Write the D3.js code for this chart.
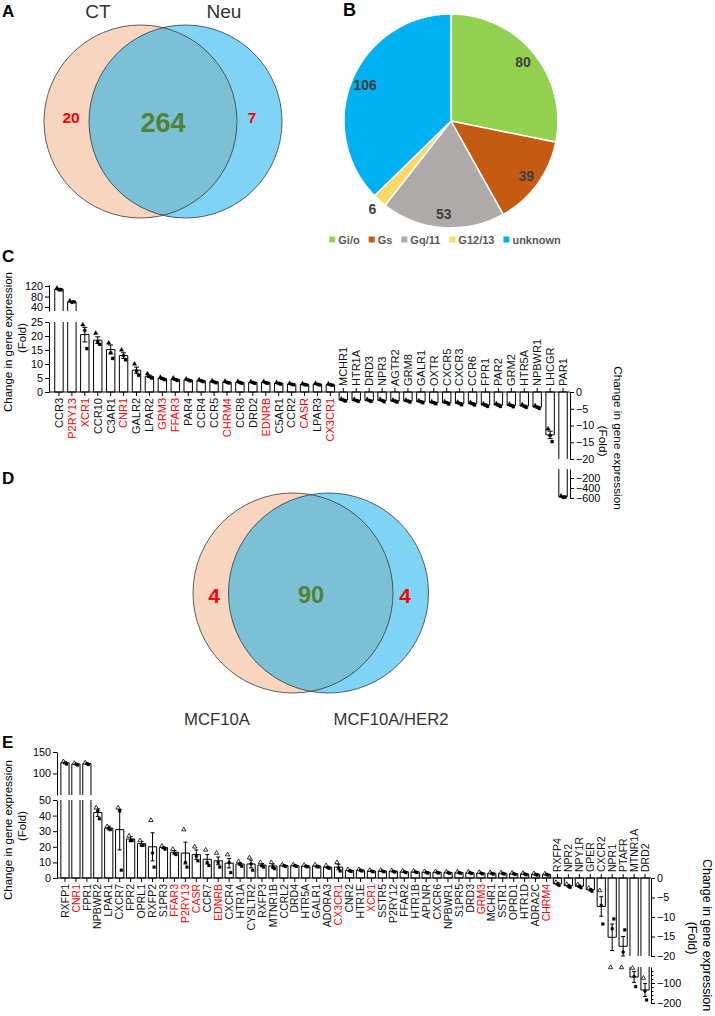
<!DOCTYPE html>
<html>
<head>
<meta charset="utf-8">
<script src="https://cdn.jsdelivr.net/npm/d3@7/dist/d3.min.js"></script>
<style>
html,body{margin:0;padding:0;background:#fff;}
svg{display:block;}
</style>
</head>
<body>
<svg id="fig" width="715" height="1016" xmlns="http://www.w3.org/2000/svg"></svg>
<script>
// ================= DATA =================
// Panel A (Venn)
const vennASets = ["CT", "Neu"];
const vennACounts = [20, 264, 7];

// Panel B (pie)
const pieLabels = ["Gi/o", "Gs", "Gq/11", "G12/13", "unknown"];
const pieValues = [80, 39, 53, 6, 106];
const pieColors = ["#92d050", "#c55a11", "#aeaaaa", "#ffd966", "#00b0f0"];

// Panel C (bars)
const cGenes = ["CCR3","P2RY13","XCR1","CCR10","C3AR1","CNR1","GALR2","LPAR2","GRM3","FFAR3","PAR4","CCR4","CCR5","CHRM4","CCR8","DRD2","EDNRB","C5AR1","CCR2","CASR","LPAR3","CX3CR1",
  "MCHR1","HTR1A","DRD3","NPR3","AGTR2","GRM8","GALR1","OXTR","CXCR5","CXCR3","CCR6","FPR1","PAR2","GRM2","HTR5A","NPBWR1","LHCGR","PAR1"];
const cUpCount = 22;
const cRedGenes = ["P2RY13","XCR1","CNR1","GRM3","FFAR3","CHRM4","EDNRB","CASR","CX3CR1"];
const cMeans = [108, 60, 20.5, 18.5, 15.2, 13, 7.8, 5.6, 4.8, 4.5, 4.3, 4.0, 3.6, 3.5, 3.4, 3.4, 3.4, 3.1, 2.8, 2.7, 2.8, 2.6,
  -2.4, -2.5, -2.5, -2.5, -2.7, -2.7, -2.9, -3.2, -3.2, -3.4, -3.5, -3.9, -3.9, -4.0, -4.2, -4.5, -12.8, -575];
const cSem = [3, 2, 2.6, 1.2, 1.6, 1.0, 1.1, 0.4, 0.3, 0.3, 0.2, 0.2, 0.2, 0.2, 0.2, 0.2, 0.2, 0.2, 0.2, 0.2, 0.2, 0.15,
  0.2, 0.2, 0.2, 0.2, 0.2, 0.2, 0.2, 0.2, 0.2, 0.2, 0.25, 0.25, 0.25, 0.25, 0.25, 0.25, 1.1, 8];
const cPoints = [[112,106,105],[63,58,60],[24,22,15.5],[21,18,17],[17.5,14,12],[15,13,11.5],[10,7.5,6],[6.5,5.5,5],
  [5.3,4.8,4.4],[5,4.5,4.1],[4.7,4.3,4.0],[4.4,4,3.7],[4,3.6,3.3],[3.9,3.5,3.2],[3.8,3.4,3.1],[3.7,3.4,3.1],[3.8,3.3,3.1],
  [3.4,3.1,2.8],[3.1,2.8,2.6],[3,2.7,2.5],[3.1,2.8,2.5],[2.9,2.6,2.4],
  [-2.1,-2.4,-2.7],[-2.2,-2.5,-2.8],[-2.2,-2.5,-2.8],[-2.2,-2.5,-2.9],[-2.4,-2.7,-3.0],[-2.4,-2.7,-3.0],[-2.6,-2.9,-3.2],
  [-2.9,-3.2,-3.5],[-2.9,-3.2,-3.6],[-3.0,-3.4,-3.8],[-3.1,-3.5,-3.9],[-3.5,-3.9,-4.3],[-3.5,-3.9,-4.3],[-3.6,-4.0,-4.4],
  [-3.8,-4.2,-4.6],[-4.1,-4.5,-4.9],[-11,-13,-14.8],[-560,-585,-580]];
const cTicksUpLow = [0, 5, 10, 15, 20, 25];
const cTicksUpHigh = [40, 80, 120];
const cTicksDownHigh = [0, -5, -10, -15, -20];
const cTicksDownLow = [-200, -400, -600];

// Panel D (Venn)
const vennDSets = ["MCF10A", "MCF10A/HER2"];
const vennDCounts = [4, 90, 4];

// Panel E (bars)
const eGenes = ["RXFP1","CNR1","FPR1","NPBWR2","LPAR1","CXCR7","FPR2","OPRL1","RXFP2","S1PR3","FFAR3","P2RY13","CASR","CCR7","EDNRB",
  "CXCR4","HTR1A","CYSLTR2","RXFP3","MTNR1B","CCRL2","DRD4","HTR5A","GALR1","ADORA3","CX3CR1","CNR2","HTR1E","XCR1","SSTR5",
  "P2RY12","FFAR2","HTR1B","APLNR","CXCR6","NPBWR1","S1PR5","DRD3","GRM3","MCHR1","SSTR1","OPRD1","HTR1D","ADRA2C","CHRM4",
  "RXFP4","NPR2","NPY1R","GPER","CXCR2","NPR1","PTAFR","MTNR1A","DRD2"];
const eUpCount = 45;
const eRedGenes = ["CNR1","FFAR3","P2RY13","CASR","EDNRB","CX3CR1","XCR1","GRM3","CHRM4"];
const eMeans = [125, 122, 123, 42, 32, 31, 25, 22, 20, 19.5, 16.5, 16, 15, 12, 11, 9.5, 9, 9, 8.3, 7.7, 8, 8, 7.7, 7.7, 7, 7,
  4.8, 5, 4.5, 4.5, 4.3, 4, 4, 3.7, 3.7, 3.5, 3.5, 3.4, 3.2, 3, 3, 2.8, 2.6, 2.4, 2.3,
  -1.5, -2, -2.1, -3, -7.3, -15.2, -17.5, -70, -135];
const eSem = [2, 1.5, 1.5, 2.5, 1.2, 13, 1.5, 1.5, 9, 0.6, 1.2, 7, 3, 3, 2.5, 3, 0.8, 2.5, 1, 1.3, 0.4, 0.4, 0.4, 0.5, 0.6, 1.8,
  0.4, 0.3, 0.3, 0.3, 0.3, 0.3, 0.3, 0.3, 0.3, 0.3, 0.3, 0.3, 0.3, 0.3, 0.3, 0.3, 0.3, 0.3, 0.3,
  0.3, 0.3, 0.3, 0.3, 2.5, 3.4, 2.5, 27, 32];
const ePoints = [[128,125,122],[124,122,120],[125,123,121],[45,43,38],[33,32,31],[45,43,5],[27,24,24],[24,21,21],[37,16,7],
  [20.5,19.5,18.5],[18.5,16,15],[31,10,7],[20,14,11],[18,10,8],[16,10,7],[15,10,3.5],[10.5,9,7.5],[13,9,5],[10,8,7],[10,7,6],
  [8.6,8,7.4],[8.6,8,7.4],[8.3,7.6,7.2],[8.5,7.5,7.1],[8,6.8,6.2],[10,6.5,4.5],[5.5,4.7,4.2],[5.5,5,4.5],[5,4.5,4],[5,4.5,4],
  [4.8,4.3,3.8],[4.5,4,3.5],[4.5,4,3.5],[4.2,3.7,3.2],[4.2,3.7,3.2],[4,3.5,3],[4,3.5,3],[3.9,3.4,2.9],[3.7,3.2,2.7],[3.5,3,2.5],
  [3.5,3,2.5],[3.3,2.8,2.3],[3.1,2.6,2.1],[2.9,2.4,1.9],[2.8,2.3,1.8],
  [-1.1,-1.5,-1.9],[-1.6,-2,-2.4],[-1.7,-2.1,-2.5],[-2.6,-3,-3.4],[-3.2,-7,-11.8],[-22,-13,-10.5],[-22,-19,-13.3],[-25,-68,-118],[-75,-140,-185]];
const eTicksUpLow = [0, 10, 20, 30, 40, 50];
const eTicksUpHigh = [100, 150];
const eTicksDownHigh = [0, -5, -10, -15, -20];
const eTicksDownLow = [-100, -200];
const eMinorDownLow = [-40, -60, -80, -120, -140, -160, -180];

const axisTitle = "Change in gene expression";
const axisSubTitle = "(Fold)";

// ================= DRAWING =================
const FF = "'Liberation Sans', Arial, Helvetica, sans-serif";
const svg = d3.select("#fig");
const defs = svg.append("defs");

function txt(parent, x, y, s, o = {}) {
  const t = parent.append("text").attr("x", x).attr("y", y).text(s)
    .attr("font-family", FF).attr("font-size", o.size || 11).attr("fill", o.fill || "#000")
    .attr("text-anchor", o.anchor || "start");
  if (o.weight) t.attr("font-weight", o.weight);
  if (o.dy) t.attr("dy", o.dy);
  if (o.transform) t.attr("transform", o.transform);
  return t;
}

// panel letters
txt(svg, 2, 17, "A", {size: 17, weight: "bold"});
txt(svg, 343, 16, "B", {size: 18, weight: "bold"});
txt(svg, 2, 262, "C", {size: 17, weight: "bold"});
txt(svg, 2, 484, "D", {size: 17, weight: "bold"});
txt(svg, 2, 748, "E", {size: 17, weight: "bold"});

// ---------- Venn ----------
function venn(id, c1, c2, cy, r) {
  const g = svg.append("g");
  defs.append("clipPath").attr("id", id).append("circle").attr("cx", c1).attr("cy", cy).attr("r", r);
  g.append("circle").attr("cx", c1).attr("cy", cy).attr("r", r).attr("fill", "#f8d5bf");
  g.append("circle").attr("cx", c2).attr("cy", cy).attr("r", r).attr("fill", "#7fd4f5");
  g.append("circle").attr("cx", c2).attr("cy", cy).attr("r", r).attr("fill", "#7bc0d5").attr("clip-path", `url(#${id})`);
  [c1, c2].forEach(cx => g.append("circle").attr("cx", cx).attr("cy", cy).attr("r", r)
    .attr("fill", "none").attr("stroke", "#3a3a3a").attr("stroke-width", 0.8));
  return g;
}
const gA = venn("clipA", 140.5, 185.5, 121.5, 96.5);
txt(gA, 98, 17.5, vennASets[0], {size: 19, anchor: "middle", fill: "#333"});
txt(gA, 224, 17.5, vennASets[1], {size: 19, anchor: "middle", fill: "#333"});
txt(gA, 71, 123, vennACounts[0], {size: 15.5, weight: "bold", anchor: "middle", fill: "#ff0000"});
txt(gA, 163, 131.5, vennACounts[1], {size: 27, weight: "bold", anchor: "middle", fill: "#538135"});
txt(gA, 252, 123, vennACounts[2], {size: 15.5, weight: "bold", anchor: "middle", fill: "#ff0000"});

const gD = venn("clipD", 293, 328.5, 593, 100);
txt(gD, 214, 603, vennDCounts[0], {size: 21, weight: "bold", anchor: "middle", fill: "#ff0000"});
txt(gD, 311, 603, vennDCounts[1], {size: 23.5, weight: "bold", anchor: "middle", fill: "#538135"});
txt(gD, 405, 603, vennDCounts[2], {size: 21, weight: "bold", anchor: "middle", fill: "#ff0000"});
txt(gD, 217, 725, vennDSets[0], {size: 16.7, anchor: "middle", fill: "#333"});
txt(gD, 391, 725, vennDSets[1], {size: 16.7, anchor: "middle", fill: "#333"});

// ---------- Pie ----------
(function () {
  const cx = 451, cy = 121, R = 107;
  const g = svg.append("g").attr("transform", `translate(${cx},${cy})`);
  const pie = d3.pie().sort(null).value(d => d)(pieValues);
  const arc = d3.arc().innerRadius(0).outerRadius(R);
  g.selectAll("path.sl").data(pie).join("path").attr("class", "sl").attr("d", arc)
    .attr("fill", (d, i) => pieColors[i]).attr("stroke", "#fff").attr("stroke-width", 1.5);
  const total = d3.sum(pieValues);
  pie.forEach((d, i) => {
    const rr = (d.value / total < 0.03) ? R * 1.1 : R * 0.87;
    const c = d3.arc().innerRadius(rr).outerRadius(rr).centroid(d);
    txt(g, c[0], c[1], d.value, {size: 14, weight: "bold", anchor: "middle", fill: "#404040", dy: "0.36em"});
  });
  // legend
  const lg = svg.append("g");
  let xx = 0;
  pieLabels.forEach((lab, i) => {
    const it = lg.append("g").attr("transform", `translate(${xx},0)`);
    it.append("rect").attr("x", 0).attr("y", 239.5 - 3).attr("width", 6).attr("height", 6).attr("fill", pieColors[i]);
    const t = txt(it, 9, 243.5, lab, {size: 11, weight: "bold", fill: "#595959"});
    const w = t.node().getComputedTextLength();
    xx += 9 + w + 9;
  });
  const totalW = xx - 9;
  lg.attr("transform", `translate(${445 - totalW / 2},0)`);
})();

// ---------- Bar panels ----------
function barPanel(c) {
  const g = svg.append("g");
  const x = d3.scaleBand().domain(c.genes).range(c.xRange).paddingInner(c.pad).paddingOuter(c.pad / 2);
  const bw = x.bandwidth();
  const step = x.step();
  const S = {
    upLo: d3.scaleLinear().domain(c.upLo.dom).range(c.upLo.rng),
    upHi: d3.scaleLinear().domain(c.upHi.dom).range(c.upHi.rng),
    dnHi: d3.scaleLinear().domain(c.dnHi.dom).range(c.dnHi.rng),
    dnLo: d3.scaleLinear().domain(c.dnLo.dom).range(c.dnLo.rng)
  };
  const upMax = c.upLo.dom[1], dnMin = c.dnHi.dom[1];
  const y = v => v >= 0 ? (v <= upMax ? S.upLo(v) : S.upHi(v)) : (v >= dnMin ? S.dnHi(v) : S.dnLo(v));
  const bars = g.append("g");
  const errs = g.append("g");
  const pts = g.append("g");
  const symTypes = [d3.symbolTriangle, d3.symbolCircle, d3.symbolSquare];

  c.genes.forEach((gene, i) => {
    const m = c.means[i], x0 = x(gene), x1 = x0 + bw, xc = x0 + bw / 2;
    const bar = (d) => bars.append("path").attr("d", d).attr("fill", "#fff").attr("stroke", "#000").attr("stroke-width", 1);
    if (m >= 0 && m <= upMax) {
      bar(`M${x0},${S.upLo(0)}V${S.upLo(m)}H${x1}V${S.upLo(0)}Z`);
    } else if (m > upMax) {
      bar(`M${x0},${S.upLo(upMax)}V${S.upLo(0)}H${x1}V${S.upLo(upMax)}`);
      bar(`M${x0},${S.upHi(upMax)}V${S.upHi(m)}H${x1}V${S.upHi(upMax)}`);
    } else if (m < 0 && m >= dnMin) {
      bar(`M${x0},${S.dnHi(0)}V${S.dnHi(m)}H${x1}V${S.dnHi(0)}Z`);
    } else {
      bar(`M${x0},${S.dnHi(dnMin)}V${S.dnHi(0)}H${x1}V${S.dnHi(dnMin)}`);
      bar(`M${x0},${S.dnLo(dnMin)}V${S.dnLo(m)}H${x1}V${S.dnLo(dnMin)}`);
    }
    const s = c.sem[i];
    const ya = y(m - s), yb = y(m + s), hw = c.capW / 2;
    errs.append("path").attr("d", `M${xc},${ya}V${yb}M${xc - hw},${ya}H${xc + hw}M${xc - hw},${yb}H${xc + hw}`)
      .attr("stroke", "#000").attr("stroke-width", 1).attr("fill", "none");
    c.points[i].forEach((p, k) => {
      const hollow = c.hollowTri && k === 0;
      pts.append("path").attr("d", d3.symbol().type(symTypes[k]).size(c.symSize)())
        .attr("transform", `translate(${xc + c.offs[k]},${y(p)})`)
        .attr("fill", hollow ? "#fff" : "#000").attr("stroke", "#000").attr("stroke-width", hollow ? 0.8 : 0.3);
    });
  });

  const styleAxis = (sel, size) => {
    sel.selectAll("text").attr("font-family", FF).attr("font-size", size).attr("fill", "#000");
    sel.selectAll("line,path").attr("stroke", "#000").attr("stroke-width", 1);
  };
  [["upLo", c.upLo.ticks], ["upHi", c.upHi.ticks]].forEach(([k, tv]) => {
    const a = g.append("g").attr("transform", `translate(${c.axisLeftX},0)`)
      .call(d3.axisLeft(S[k]).tickValues(tv).tickSize(4).tickSizeOuter(0).tickPadding(2));
    styleAxis(a, c.tickFont);
  });
  [["dnHi", c.dnHi.ticks], ["dnLo", c.dnLo.ticks]].forEach(([k, tv]) => {
    const a = g.append("g").attr("transform", `translate(${c.axisRightX},0)`)
      .call(d3.axisRight(S[k]).tickValues(tv).tickSize(4).tickSizeOuter(0).tickPadding(2));
    styleAxis(a, c.tickFont);
  });
  if (c.dnLo.minor && c.dnLo.minor.length) {
    const a = g.append("g").attr("transform", `translate(${c.axisRightX},0)`)
      .call(d3.axisRight(S.dnLo).tickValues(c.dnLo.minor).tickSize(2.5).tickSizeOuter(0).tickFormat(""));
    a.select(".domain").remove();
    styleAxis(a, c.tickFont);
  }

  const upGenes = c.genes.slice(0, c.nUp), dnGenes = c.genes.slice(c.nUp);
  const red = new Set(c.red);
  const xb = g.append("g").attr("transform", `translate(0,${c.y0})`)
    .call(d3.axisBottom(x).tickValues(upGenes).tickSize(4).tickSizeOuter(0));
  xb.select(".domain").remove();
  styleAxis(xb, c.labelSize);
  xb.selectAll("text").attr("transform", "rotate(-90)").attr("x", -6).attr("y", 0).attr("dy", "0.35em")
    .attr("text-anchor", "end").attr("fill", d => red.has(d) ? "#ff0000" : "#111");
  const xt = g.append("g").attr("transform", `translate(0,${c.y0})`)
    .call(d3.axisTop(x).tickValues(dnGenes).tickSize(4).tickSizeOuter(0));
  xt.select(".domain").remove();
  styleAxis(xt, c.labelSize);
  xt.selectAll("text").attr("transform", "rotate(-90)").attr("x", 6).attr("y", 0).attr("dy", "0.35em")
    .attr("text-anchor", "start").attr("fill", d => red.has(d) ? "#ff0000" : "#111");
  const split = x(upGenes[upGenes.length - 1]) + bw + (step - bw) / 2;
  g.append("line").attr("x1", c.axisLeftX).attr("x2", split).attr("y1", c.y0).attr("y2", c.y0).attr("stroke", "#000");
  g.append("line").attr("x1", split).attr("x2", c.axisRightX).attr("y1", c.y0).attr("y2", c.y0).attr("stroke", "#000");

  const ttl = c.titles;
  txt(g, 0, 0, axisTitle, {size: ttl.size, anchor: "middle", dy: "0.35em", transform: `translate(${ttl.lx},${ttl.ly}) rotate(-90)`});
  txt(g, 0, 0, axisSubTitle, {size: ttl.size, anchor: "middle", dy: "0.35em", transform: `translate(${ttl.lx + 14},${ttl.ly - 4}) rotate(-90)`});
  txt(g, 0, 0, axisTitle, {size: ttl.rsize, anchor: "middle", dy: "0.35em", transform: `translate(${ttl.rx},${ttl.ry}) rotate(90)`});
  txt(g, 0, 0, axisSubTitle, {size: ttl.rsize, anchor: "middle", dy: "0.35em", transform: `translate(${ttl.rx - 15},${ttl.ry + 3}) rotate(90)`});
}

barPanel({
  genes: cGenes, red: cRedGenes, means: cMeans, sem: cSem, points: cPoints, nUp: cUpCount,
  xRange: [52.5, 569.5], pad: 0.35, axisLeftX: 49, axisRightX: 570, y0: 392,
  upLo: {dom: [0, 25], rng: [392, 322], ticks: cTicksUpLow},
  upHi: {dom: [25, 125], rng: [311, 284.7], ticks: cTicksUpHigh},
  dnHi: {dom: [0, -20], rng: [392, 459], ticks: cTicksDownHigh},
  dnLo: {dom: [-20, -600], rng: [469, 498], ticks: cTicksDownLow},
  labelSize: 11, tickFont: 10.8, hollowTri: false, capW: 5, offs: [-2, 0, 2], symSize: 9,
  titles: {size: 11.5, lx: 8, ly: 342, rsize: 11.8, rx: 618, ry: 438}
});

barPanel({
  genes: eGenes, red: eRedGenes, means: eMeans, sem: eSem, points: ePoints, nUp: eUpCount,
  xRange: [59.5, 650.5], pad: 0.25, axisLeftX: 57, axisRightX: 651, y0: 878,
  upLo: {dom: [0, 50], rng: [878, 800], ticks: eTicksUpLow},
  upHi: {dom: [50, 150], rng: [795, 752], ticks: eTicksUpHigh},
  dnHi: {dom: [0, -20], rng: [878, 956], ticks: eTicksDownHigh},
  dnLo: {dom: [-20, -200], rng: [967, 1003], ticks: eTicksDownLow, minor: eMinorDownLow},
  labelSize: 10.5, tickFont: 10.8, hollowTri: true, capW: 4, offs: [-1.6, 0, 1.6], symSize: 8,
  titles: {size: 11.5, lx: 8, ly: 830, rsize: 12.5, rx: 707, ry: 935}
});
</script>
</body>
</html>
